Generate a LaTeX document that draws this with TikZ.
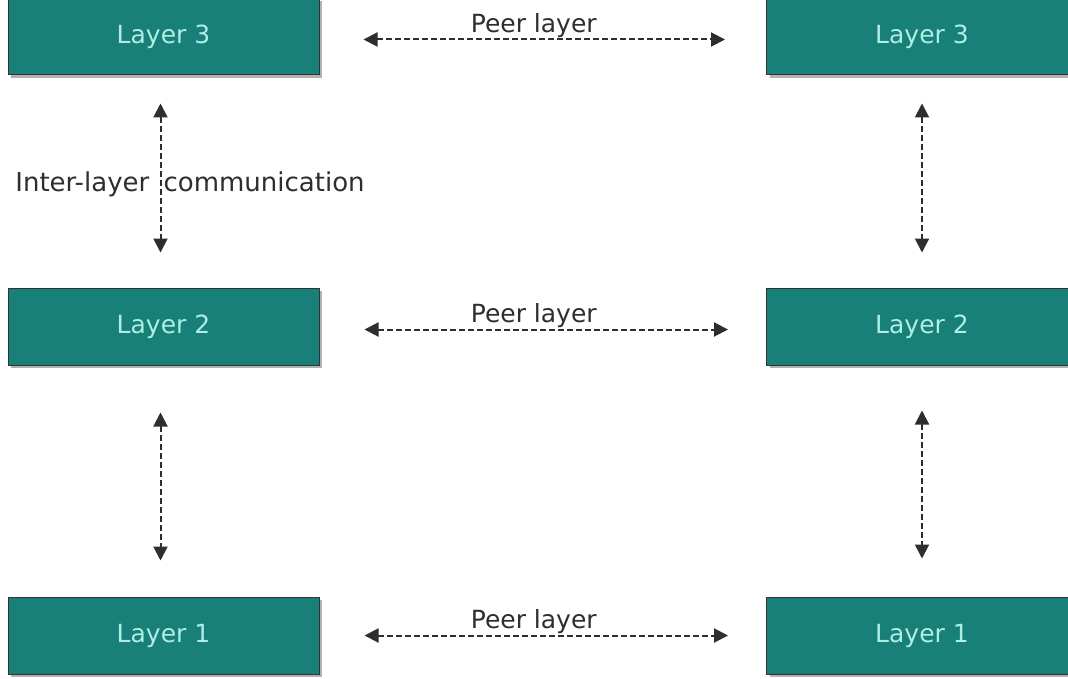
\documentclass[tikz,border=0pt]{standalone}
\usepackage{fontspec}
\setmainfont{DejaVu Sans}
\usetikzlibrary{arrows.meta,shadows}
\definecolor{layerfill}{HTML}{187F79}
\definecolor{layertext}{HTML}{AEEEE4}
\definecolor{linkgray}{HTML}{2E2E2E}
\tikzset{
  layerbox/.style={rectangle, fill=layerfill, draw=black!80, line width=1pt,
    minimum width=311pt, minimum height=77pt, text=layertext,
    font=\fontsize{25}{30}\selectfont,
    drop shadow={shadow xshift=3pt, shadow yshift=-3pt, opacity=0.6}},
  link/.style={draw=linkgray, line width=2pt, dash pattern=on 6pt off 3pt,
    {Triangle[length=14pt,width=14pt]}-{Triangle[length=14pt,width=14pt]}},
  linklabel/.style={text=linkgray, font=\fontsize{25}{30}\selectfont}
}
\begin{document}
\begin{tikzpicture}[x=1pt,y=-1pt]
  \useasboundingbox[fill=white] (0,0) rectangle (1068,679);
  % draw the layer boxes
  \node[layerbox] (left3) at (163.5,36.5) {Layer 3};
  \node[layerbox] (left2) at (163.5,326.5) {Layer 2};
  \node[layerbox] (left1) at (163.5,635.5) {Layer 1};
  \node[layerbox] (right3) at (922,36.5) {Layer 3};
  \node[layerbox] (right2) at (922,326.5) {Layer 2};
  \node[layerbox] (right1) at (922,635.5) {Layer 1};
  % peer links
  \draw[link, shorten <=44pt, shorten >=41pt] ([yshift=-3pt]left3.east) -- ([yshift=-3pt]right3.west)
    node[linklabel, midway, anchor=base, xshift=-9pt, yshift=7pt] (peer3) {Peer layer};
  \draw[link, shorten <=45pt, shorten >=38pt] ([yshift=-3pt]left2.east) -- ([yshift=-3pt]right2.west)
    node[linklabel, midway, anchor=base, xshift=-9pt, yshift=7pt] (peer2) {Peer layer};
  \draw[link, shorten <=45pt, shorten >=38pt] (left1.east) -- (right1.west)
    node[linklabel, midway, anchor=base, xshift=-9pt, yshift=7pt] (peer1) {Peer layer};
  % inter-layer links
  \draw[link, shorten <=28pt, shorten >=35pt] ([xshift=-3pt]left3.south) -- ([xshift=-3pt]left2.north);
  \draw[link, shorten <=47pt, shorten >=36pt] ([xshift=-3pt]left2.south) -- ([xshift=-3pt]left1.north);
  \draw[link, shorten <=28pt, shorten >=35pt] (right3.south) -- (right2.north);
  \draw[link, shorten <=45pt, shorten >=38pt] (right2.south) -- (right1.north);
  \node[linklabel, anchor=base] (inter) at (190,192) {\fontsize{26}{30}\selectfont Inter-layer\hspace{6pt} communication};
\end{tikzpicture}
\end{document}
